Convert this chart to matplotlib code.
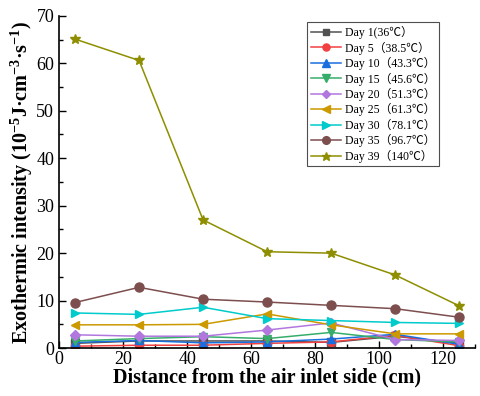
import numpy as np
from matplotlib import pyplot as plt
from matplotlib.ticker import MultipleLocator

plt.rcParams['font.family'] = ['Liberation Serif', 'Noto Sans CJK SC']
plt.rcParams['mathtext.fontset'] = 'custom'
plt.rcParams['mathtext.rm'] = 'Liberation Serif:bold'
plt.rcParams['mathtext.bf'] = 'Liberation Serif:bold'
plt.rcParams['mathtext.it'] = 'Liberation Serif:bold:italic'

# distance from inlet (cm)
distance = [5, 25, 45, 65, 85, 105, 125]

labels = ['Day 1(36℃）', 'Day 5（38.5℃）', 'Day 10（43.3℃）', 'Day 15（45.6℃）',
          'Day 20（51.3℃）', 'Day 25（61.3℃）', 'Day 30（78.1℃）', 'Day 35（96.7℃）',
          'Day 39（140℃）']

day1 = [1.0, 1.5, 1.5, 1.5, 1.2, 2.5, 1.0]
day5 = [0.4, 0.6, 0.6, 1.0, 1.3, 2.7, 0.5]
day10 = [1.2, 1.6, 1.1, 1.3, 1.9, 2.9, 0.8]
day15 = [1.5, 2.0, 2.4, 2.0, 3.3, 1.8, 1.3]
day20 = [2.8, 2.5, 2.5, 3.8, 5.3, 1.8, 1.6]
day25 = [4.9, 4.9, 5.0, 7.2, 4.9, 3.0, 3.0]
day30 = [7.4, 7.1, 8.6, 6.2, 5.8, 5.4, 5.2]
day35 = [9.6, 12.8, 10.3, 9.7, 9.0, 8.3, 6.5]
day39 = [65.1, 60.6, 27.0, 20.3, 20.0, 15.4, 8.9]

series = [day1, day5, day10, day15, day20, day25, day30, day35, day39]
colors = ['#515151', '#F14040', '#1A6FDF', '#37AD6B', '#B177DE',
          '#CC9900', '#00CBCC', '#7D4E4E', '#8E8E00']
markers = ['s', 'o', '^', 'v', 'D', '<', '>', 'o', '*']
sizes = [5.5, 6, 6, 6, 5, 6, 6, 6.5, 7.5]

fig = plt.figure(figsize=(4.8, 3.96), dpi=100)
ax = fig.add_axes([0.123, 0.121, 0.867, 0.839])

for ys, c, m, s, lab in zip(series, colors, markers, sizes, labels):
    ax.plot(distance, ys, color=c, marker=m, markersize=s, linewidth=1.1, label=lab)

ax.set_xlim(0, 130)
ax.set_ylim(0, 70)
ax.xaxis.set_major_locator(MultipleLocator(20))
ax.xaxis.set_minor_locator(MultipleLocator(10))
ax.yaxis.set_major_locator(MultipleLocator(10))
ax.yaxis.set_minor_locator(MultipleLocator(5))
ax.tick_params(which='both', direction='in', labelsize=13, width=1)
ax.tick_params(which='major', length=5)
ax.tick_params(which='minor', length=3)
ax.tick_params(axis='x', pad=2)
ax.spines['top'].set_visible(False)
ax.spines['right'].set_visible(False)
ax.spines['left'].set_linewidth(1.2)
ax.spines['bottom'].set_linewidth(1.2)

ax.set_xlabel('Distance from the air inlet side (cm)', fontsize=14.5, fontweight='bold', labelpad=0)
ax.set_ylabel('Exothermic intensity (10$^{-5}$J·cm$^{-3}$·s$^{-1}$)', fontsize=14.5,
              fontweight='bold', labelpad=1)

leg = ax.legend(loc='upper right', bbox_to_anchor=(0.913, 0.98), fontsize=8.5, frameon=True,
                fancybox=False, edgecolor='#222222', handlelength=2.6, handletextpad=0.3,
                labelspacing=0.2, borderpad=0.3, borderaxespad=0, markerscale=0.85)
leg.get_frame().set_linewidth(0.8)

fig.savefig('out.png', dpi=100)
